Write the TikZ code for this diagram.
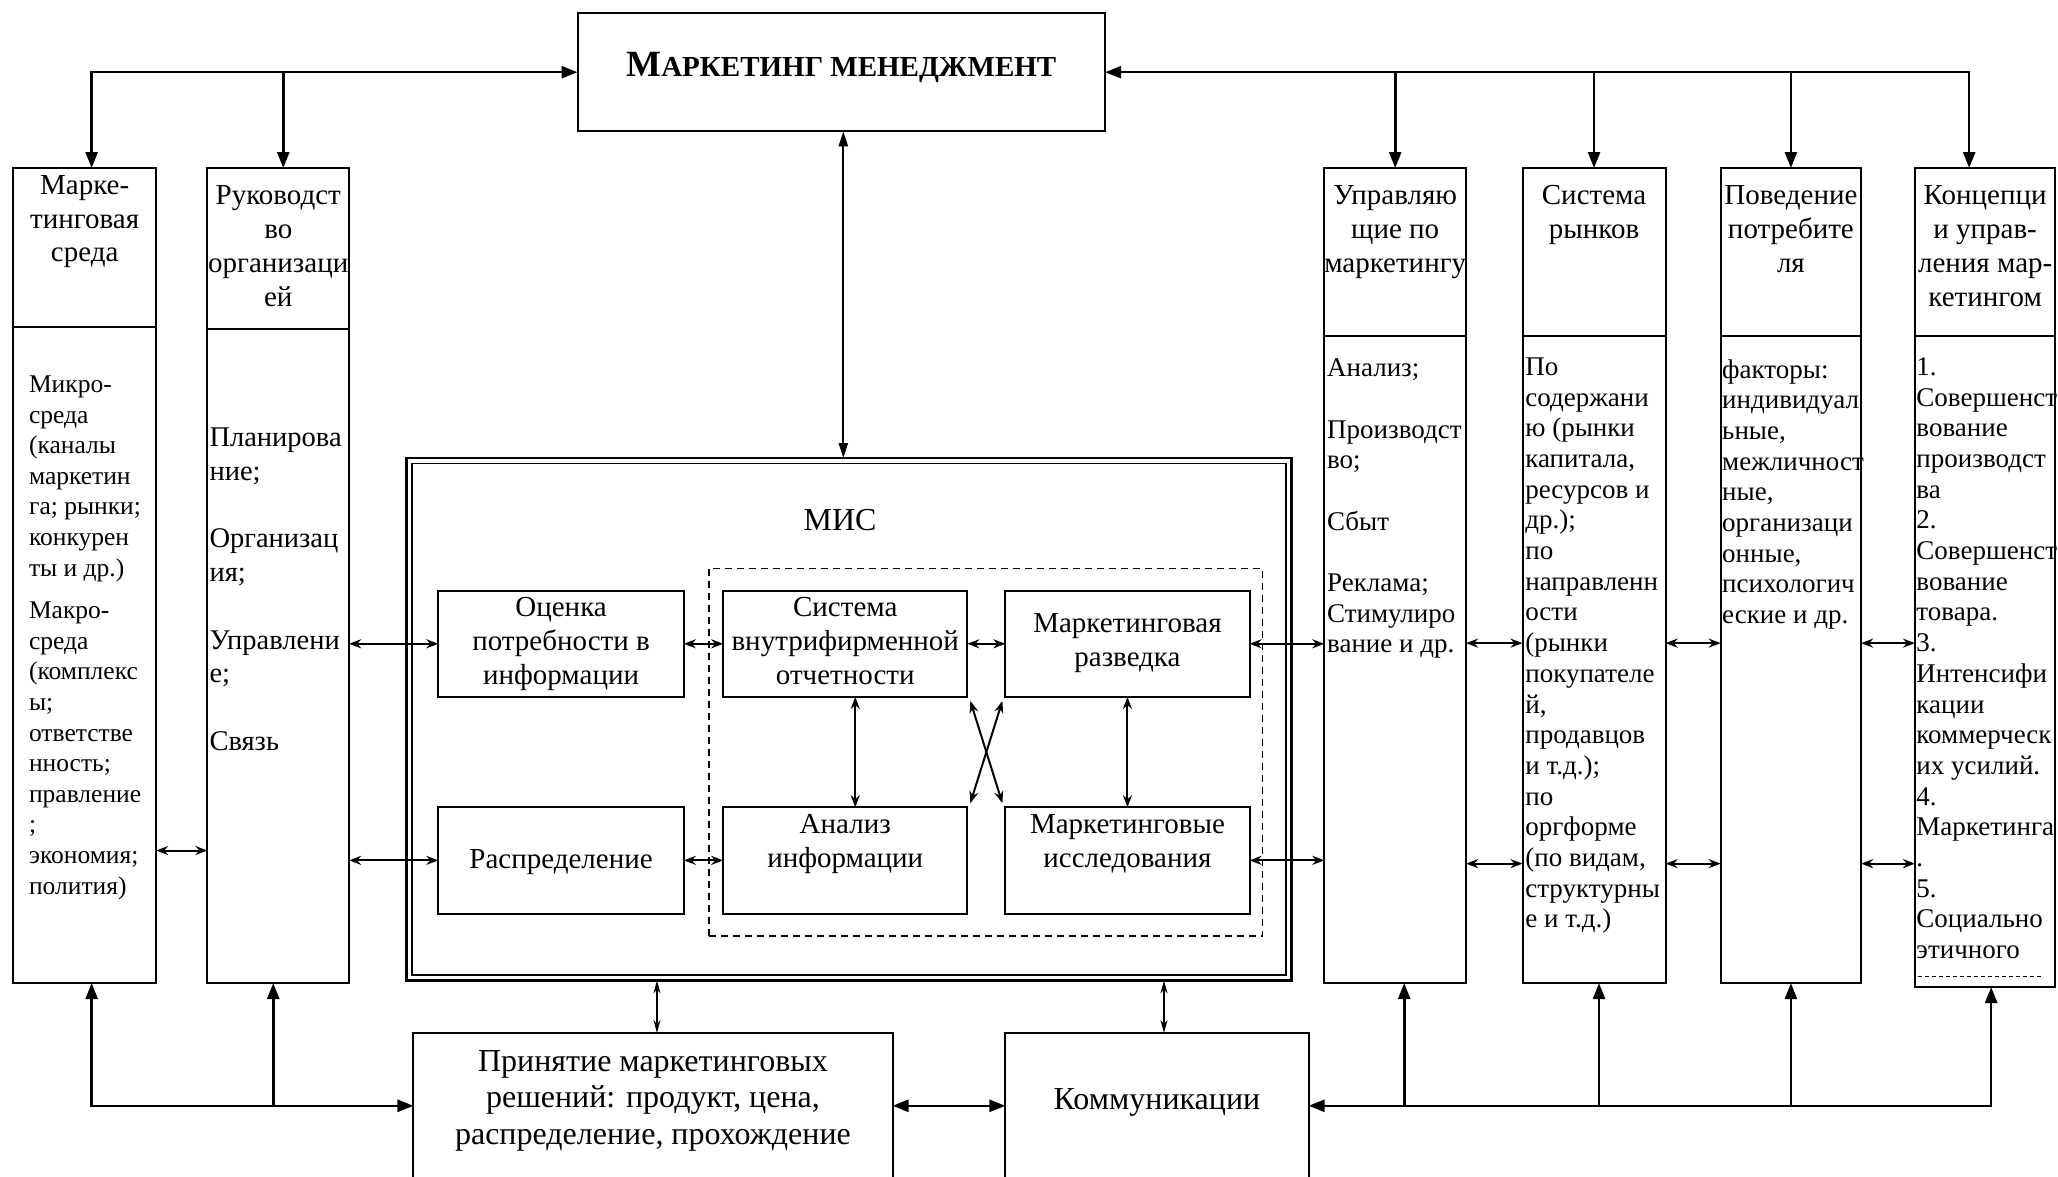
\documentclass[tikz,border=0pt]{standalone}
\usepackage{fontspec}
\setmainfont{Liberation Serif}
\usetikzlibrary{arrows.meta}
\def\U{1.3125pt}
\def\fH{\fontsize{29}{33.8}\selectfont}
\def\fA{\fontsize{25.5}{30.6}\selectfont}
\def\fB{\fontsize{28.5}{33.8}\selectfont}
\def\fR{\fontsize{27}{30.7}\selectfont}
\def\fI{\fontsize{29}{34}\selectfont}
\def\fP{\fontsize{32}{36.75}\selectfont}
\newcommand\bx[6][]{\node[boxs,#1,minimum width={(#5-#3)*\U},minimum height={(#6-#4)*\U}] (#2) at ({(#3+#5)/2},{(#4+#6)/2}) {};}
\newcommand\tl[5]{\node[anchor=base west,inner sep=0pt] (#1) at (#2,#3) {\parbox[t]{400pt}{#4\raggedright #5}};}
\newcommand\tc[5]{\node[anchor=base,inner sep=0pt] (#1) at (#2,#3) {\parbox[t]{500pt}{#4\centering #5}};}
\newcommand\gap{\\\mbox{}\\}
\tikzset{
  boxs/.style={draw, line width=2pt, inner sep=0pt, outer sep=0pt},
  big/.style={line width=2.6pt, >={Triangle[length=16pt,width=12pt]}},
  mid/.style={line width=2.2pt, >={Triangle[length=15pt,width=9pt]}},
  thin2/.style={line width=2pt, >={Stealth[length=12pt,width=9pt]}},
  vthin/.style={line width=1.6pt, >={Stealth[length=13pt,width=7pt]}},
}
\begin{document}
\begin{tikzpicture}[x=1.3125pt,y=-1.3125pt]
\useasboundingbox[fill=white] (0,0) rectangle (1568,896);
% boxes
\bx{tm}{440}{10}{842}{100}
\bx{b1}{10}{128}{119}{749}
\bx{b2}{158}{128}{266}{749}
\bx{b3}{1009}{128}{1117}{749}
\bx{b4}{1160}{128}{1269}{749}
\bx{b5}{1311}{128}{1418}{749}
\bx{b6}{1459}{128}{1566}{752}
\draw[line width=2pt] (b1.west |- 0,249) -- (b1.east |- 0,249);
\draw[line width=2pt] (b2.west |- 0,251) -- (b2.east |- 0,251);
\draw[line width=2pt] (b3.west |- 0,256) -- (b3.east |- 0,256);
\draw[line width=2pt] (b4.west |- 0,256) -- (b4.east |- 0,256);
\draw[line width=2pt] (b5.west |- 0,256) -- (b5.east |- 0,256);
\draw[line width=2pt] (b6.west |- 0,256) -- (b6.east |- 0,256);
\draw[line width=1pt, dash pattern=on 4pt off 3pt] (1461,744) -- (1556,744);
\bx[line width=2.8pt]{mis}{310}{349}{984}{747}
\bx[line width=1.6pt]{misin}{314}{353}{980}{743}
\bx[dashed, line width=1.5pt, dash pattern=on 7pt off 5pt]{dsh}{540}{433}{962}{713}
\bx{o1}{334}{450}{521}{531}
\bx{s1}{551}{450}{737}{531}
\bx{r1}{766}{450}{952}{531}
\bx{o2}{334}{615}{521}{696}
\bx{a2}{551}{615}{737}{696}
\bx{i2}{766}{615}{952}{696}
\bx{pr}{315}{787}{680}{898}
\bx{km}{766}{787}{997}{898}
% texts
\node[anchor=base,inner sep=0pt] (tmt) at (641,58.5) {\bfseries\fontsize{37}{40}\selectfont М\fontsize{29}{32}\selectfont АРКЕТИНГ МЕНЕДЖМЕНТ};
\node[anchor=base,inner sep=0pt] (mist) at (640,404) {\fontsize{32}{34}\selectfont МИС};
\tc{h1}{64.5}{148}{\fH}{Марке-\\тинговая\\среда}
\tc{h2}{212}{156}{\fH}{Руководст\\во\\организаци\\ей}
\tc{h3}{1063}{156}{\fH}{Управляю\\щие по\\маркетингу}
\tc{h4}{1214.5}{156}{\fH}{Система\\рынков}
\tc{h5}{1364.5}{156}{\fH}{Поведение\\потребите\\ля}
\tc{h6}{1512.5}{156}{\fH}{Концепци\\и управ-\\ления мар-\\кетингом}
\tl{t1}{22}{299}{\fA}{Микро-\\среда\\(каналы\\маркетин\\га; рынки;\\конкурен\\ты и др.)\\[12pt]Макро-\\среда\\(комплекс\\ы;\\ответстве\\нность;\\правление\\;\\экономия;\\полития)}
\tl{t2}{159.5}{340}{\fB}{Планирова\\ние;\gap Организац\\ия;\gap Управлени\\е;\gap Связь}
\tl{t3}{1011}{287}{\fR}{Анализ;\gap Производст\\во;\gap Сбыт\gap Реклама;\\Стимулиро\\вание и др.}
\tl{t4}{1162}{286}{\fR}{По\\содержани\\ю (рынки\\капитала,\\ресурсов и\\др.);\\по\\направленн\\ости\\(рынки\\покупателе\\й,\\продавцов\\и т.д.);\\по\\оргформе\\(по видам,\\структурны\\е и т.д.)}
\tl{t5}{1312}{288}{\fR}{факторы:\\индивидуал\\ьные,\\межличност\\ные,\\организаци\\онные,\\психологич\\еские и др.}
\tl{t6}{1460}{286}{\fR}{1.\\Совершенст\\вование\\производст\\ва\\2.\\Совершенст\\вование\\товара.\\3.\\Интенсифи\\кации\\коммерческ\\их усилий.\\4.\\Маркетинга\\.\\5.\\Социально\\этичного}
\tc{to1}{427.5}{470}{\fI}{Оценка\\потребности в\\информации}
\tc{ts1}{644}{470}{\fI}{Система\\внутрифирменной\\отчетности}
\tc{tr1}{859}{482}{\fI}{Маркетинговая\\разведка}
\tc{to2}{427.5}{662}{\fI}{Распределение}
\tc{ta2}{644}{635}{\fI}{Анализ\\информации}
\tc{ti2}{859}{635}{\fI}{Маркетинговые\\исследования}
\tc{tpr}{497.5}{816}{\fP}{Принятие маркетинговых\\решений: продукт, цена,\\распределение, прохождение}
\tc{tkm}{881.5}{845}{\fP}{Коммуникации}
% thick connectors
\draw[big,<->] ([xshift=7pt]b1.north) |- (tm.west);
\draw[big,->] ([xshift=5pt]b2.north |- tm.west) -- ([xshift=5pt]b2.north);
\draw[big,<->] (tm.east) -| ([xshift=-16pt]b6.north);
\foreach \b in {b3,b4,b5} \draw[big,->] (\b.north |- tm.east) -- (\b.north);
\draw[big,<->] ([xshift=7pt]b1.south) |- (pr.west);
\draw[big,->] ([xshift=-5pt]b2.south |- pr.west) -- ([xshift=-5pt]b2.south);
\draw[big,<->] ([xshift=6pt]b6.south) |- (km.east);
\draw[big,->] ([xshift=9pt]b3.south |- km.east) -- ([xshift=9pt]b3.south);
\draw[big,->] ([xshift=5pt]b4.south |- km.east) -- ([xshift=5pt]b4.south);
\draw[big,->] (b5.south |- km.east) -- (b5.south);
\draw[big,<->] (pr.east) -- (km.west);
\draw[mid,<->] ([xshift=2pt]tm.south) -- ([xshift=2pt]tm.south |- mis.north);
\draw[vthin,<->] ([xshift=4pt]pr.north) -- ([xshift=4pt]pr.north |- mis.south);
\draw[vthin,<->] ([xshift=7pt]km.north) -- ([xshift=7pt]km.north |- mis.south);
% thin connectors
\coordinate (ya) at (0,648);
\coordinate (yb) at (0,490);
\coordinate (yc) at (0,658);
\draw[thin2,<->] (b1.east |- ya) -- (b2.west |- ya);
\draw[thin2,<->] (b2.east |- o1.west) -- (o1.west);
\draw[thin2,<->] (b2.east |- o2.west) -- (o2.west);
\draw[thin2,<->] (o1.east) -- (s1.west);
\draw[thin2,<->] (o2.east) -- (a2.west);
\draw[thin2,<->] (s1.east) -- (r1.west);
\draw[thin2,<->] (r1.east) -- (r1.east -| b3.west);
\draw[thin2,<->] (i2.east) -- (i2.east -| b3.west);
\draw[thin2,<->] ([xshift=10pt]s1.south) -- ([xshift=10pt]a2.north);
\draw[thin2,<->] (r1.south) -- (i2.north);
\draw[thin2,<->] ([xshift=3pt,yshift=-4pt]s1.south east) -- ([xshift=-3pt,yshift=4pt]i2.north west);
\draw[thin2,<->] ([xshift=-3pt,yshift=-4pt]r1.south west) -- ([xshift=3pt,yshift=4pt]a2.north east);
\draw[thin2,<->] (b3.east |- yb) -- (b4.west |- yb);
\draw[thin2,<->] (b4.east |- yb) -- (b5.west |- yb);
\draw[thin2,<->] (b5.east |- yb) -- (b6.west |- yb);
\draw[thin2,<->] (b3.east |- yc) -- (b4.west |- yc);
\draw[thin2,<->] (b4.east |- yc) -- (b5.west |- yc);
\draw[thin2,<->] (b5.east |- yc) -- (b6.west |- yc);
\end{tikzpicture}
\end{document}
